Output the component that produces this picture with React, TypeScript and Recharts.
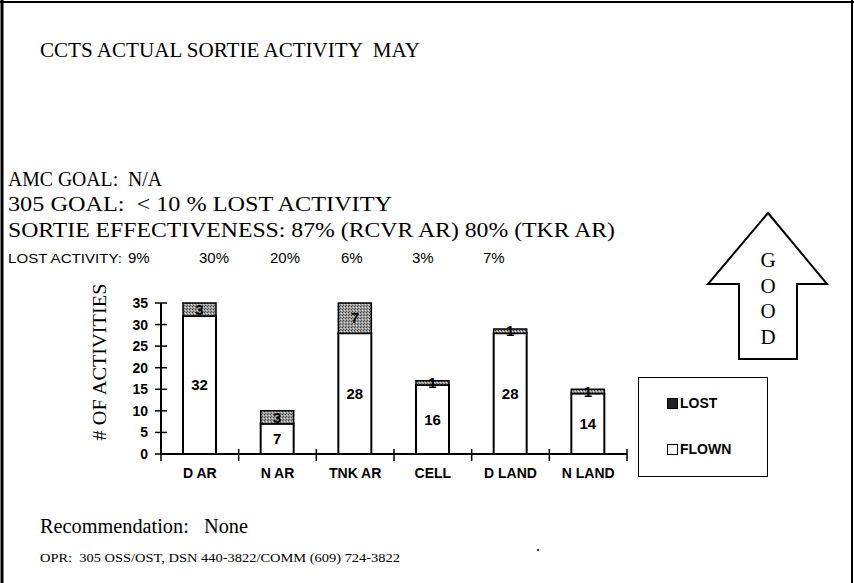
import React from 'react';
import { BarChart, Bar, XAxis, YAxis, Legend, LabelList } from 'recharts';

const categories = ['D AR', 'N AR', 'TNK AR', 'CELL', 'D LAND', 'N LAND'];
const flown = [32, 7, 28, 16, 28, 14];
const lost = [3, 3, 7, 1, 1, 1];
const lostPct = ['9%', '30%', '20%', '6%', '3%', '7%'];
const yTicks = [0, 5, 10, 15, 20, 25, 30, 35];

const data = categories.map((name, i) => ({ name, flown: flown[i], lost: lost[i] }));

const W = 854;
const H = 583;
const PLOT_LEFT = 161;
const PLOT_RIGHT = 627;
const BAND = (PLOT_RIGHT - PLOT_LEFT) / categories.length;

const sans = 'Arial, "Liberation Sans", sans-serif';
const serif = '"Liberation Serif", "Times New Roman", serif';

// serif line stretched to the width it has in the scan
const Line = ({ x, y, w, size = 20, children }: any) => (
  <text
    x={x}
    y={y}
    textLength={w}
    lengthAdjust="spacingAndGlyphs"
    fontFamily={serif}
    fontSize={size}
    fill="#000"
    style={{ whiteSpace: 'pre' }}
  >
    {children}
  </text>
);

const YTick = (p: any) => (
  <g>
    <line x1={p.x - 6} x2={p.x + 6} y1={p.y} y2={p.y} stroke="#000" strokeWidth={1.5} />
    <text x={p.x - 13} y={p.y} dy="0.36em" textAnchor="end" fontFamily={sans} fontWeight="bold" fontSize={14} fill="#000">
      {p.payload.value}
    </text>
  </g>
);

const XTick = (p: any) => (
  <g>
    <line x1={p.x - BAND / 2} x2={p.x - BAND / 2} y1={p.y - 5} y2={p.y + 7} stroke="#000" strokeWidth={1.5} />
    {p.index === categories.length - 1 && (
      <line x1={p.x + BAND / 2} x2={p.x + BAND / 2} y1={p.y - 5} y2={p.y + 7} stroke="#000" strokeWidth={1.5} />
    )}
    <text x={p.x} y={p.y + 24} textAnchor="middle" fontFamily={sans} fontWeight="bold" fontSize={14} fill="#000">
      {p.payload.value}
    </text>
  </g>
);

const LegendBox = () => (
  <div style={{ width: 128, height: 98, border: '1.5px solid #000', background: '#fff', position: 'relative', fontFamily: sans, fontWeight: 'bold', fontSize: 14 }}>
    <div style={{ position: 'absolute', left: 28, top: 17, display: 'flex', alignItems: 'center' }}>
      <span style={{ display: 'inline-block', width: 9, height: 9, background: '#222', border: '1px solid #000', marginRight: 2 }} />
      LOST
    </div>
    <div style={{ position: 'absolute', left: 28, top: 63, display: 'flex', alignItems: 'center' }}>
      <span style={{ display: 'inline-block', width: 9, height: 9, background: '#fff', border: '1px solid #000', marginRight: 2 }} />
      FLOWN
    </div>
  </div>
);

const App = () => {
  return (
    <div style={{ position: 'absolute', left: 0, top: 0, width: W, height: H, background: '#fff', overflow: 'hidden' }}>
      <BarChart
        width={W}
        height={H}
        data={data}
        margin={{ top: 303, right: W - PLOT_RIGHT, left: PLOT_LEFT - 40, bottom: H - 454 - 30 }}
      >
        <defs>
          <pattern id="lostPat" width="3" height="3" patternUnits="userSpaceOnUse">
            <rect width="3" height="3" fill="#9c9c9c" />
            <rect x="0" y="0" width="1" height="1" fill="#444" />
            <rect x="2" y="1" width="1" height="1" fill="#d8d8d8" />
            <rect x="1" y="2" width="1" height="1" fill="#5a5a5a" />
          </pattern>
        </defs>
        <XAxis
          dataKey="name"
          height={30}
          tickLine={false}
          tickSize={0}
          tickMargin={0}
          axisLine={{ stroke: '#000', strokeWidth: 2 }}
          tick={<XTick />}
          interval={0}
        />
        <YAxis
          width={40}
          domain={[0, 35]}
          ticks={yTicks}
          tickLine={false}
          tickSize={0}
          tickMargin={0}
          axisLine={{ stroke: '#000', strokeWidth: 2 }}
          tick={<YTick />}
          interval={0}
        />
        <Legend
          layout="vertical"
          align="center"
          verticalAlign="middle"
          content={() => <LegendBox />}
          wrapperStyle={{ position: 'absolute', left: 638, top: 377, width: 131, height: 101 }}
        />
        <Bar dataKey="flown" name="FLOWN" stackId="a" barSize={33} fill="#fff" stroke="#000" strokeWidth={2} isAnimationActive={false}>
          <LabelList dataKey="flown" position="center" fill="#000" fontFamily={sans} fontWeight="bold" fontSize={15} />
        </Bar>
        <Bar dataKey="lost" name="LOST" stackId="a" barSize={33} fill="url(#lostPat)" stroke="#000" strokeWidth={1.5} isAnimationActive={false}>
          <LabelList dataKey="lost" position="center" fill="#000" fontFamily={sans} fontWeight="bold" fontSize={15} />
        </Bar>
      </BarChart>

      <svg width={W} height={H} style={{ position: 'absolute', left: 0, top: 0, pointerEvents: 'none' }}>
        <line x1={0} x2={W} y1={2} y2={2} stroke="#000" strokeWidth={2} />
        <line x1={2} x2={2} y1={0} y2={H} stroke="#000" strokeWidth={3} />
        <line x1={852} x2={852} y1={0} y2={H} stroke="#000" strokeWidth={2} />

        <Line x={40} y={57} w={380}>CCTS ACTUAL SORTIE ACTIVITY  MAY</Line>
        <Line x={8} y={186} w={154}>AMC GOAL:  N/A</Line>
        <Line x={8} y={211} w={384}>305 GOAL:  &lt; 10 % LOST ACTIVITY</Line>
        <Line x={8} y={237} w={607}>SORTIE EFFECTIVENESS: 87% (RCVR AR) 80% (TKR AR)</Line>
        <text x={8} y={263} textLength={114} lengthAdjust="spacingAndGlyphs" fontFamily={sans} fontSize={13} fill="#000">
          LOST ACTIVITY:
        </text>
        {lostPct.map((t, i) => (
          <text key={t + i} x={128 + i * 71} y={263} fontFamily={sans} fontSize={15} fill="#000">{t}</text>
        ))}

        <text
          x={106}
          y={362}
          transform="rotate(-90 106 362)"
          textAnchor="middle"
          textLength={157}
          lengthAdjust="spacingAndGlyphs"
          fontFamily={serif}
          fontSize={19}
          fill="#000"
        >
          # OF ACTIVITIES
        </text>

        <polygon
          points="768,213 827,284 797,284 797,359 739,359 739,284 708,284"
          fill="#fff"
          stroke="#000"
          strokeWidth={2}
        />
        {['G', 'O', 'O', 'D'].map((c, i) => (
          <text key={i} x={768} y={267 + i * 25.5} textAnchor="middle" fontFamily={serif} fontSize={21} fill="#000">{c}</text>
        ))}

        <Line x={40} y={533} w={208}>Recommendation:   None</Line>
        <circle cx={538} cy={550} r={1} fill="#000" />
        <Line x={40} y={562} w={360} size={13}>OPR:  305 OSS/OST, DSN 440-3822/COMM (609) 724-3822</Line>
      </svg>
    </div>
  );
};

export default App;
